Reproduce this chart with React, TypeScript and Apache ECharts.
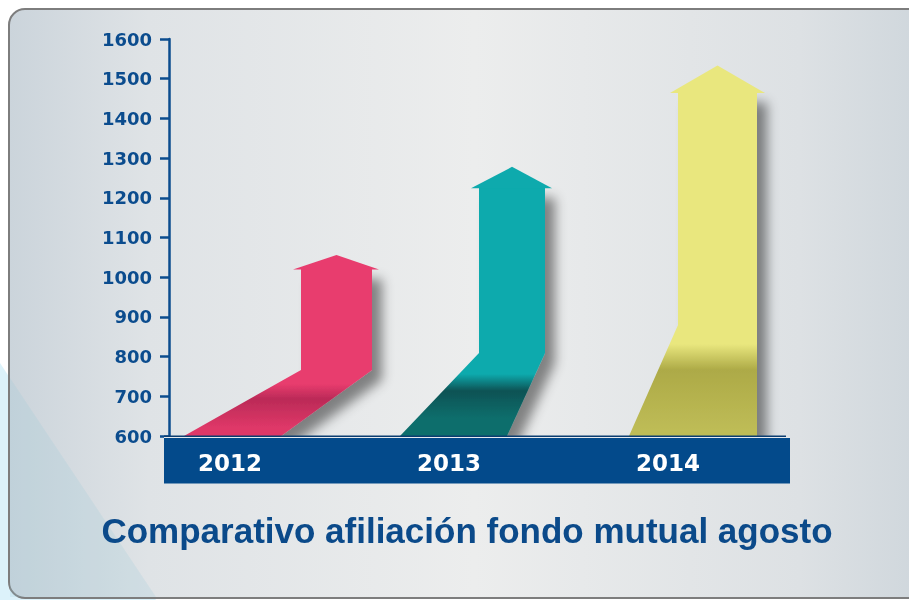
import React, { useEffect, useRef } from "react";
import * as echarts from "echarts";

// ---- data ----
const YEARS: string[] = ["2012", "2013", "2014"];
const AFILIADOS: number[] = [1056, 1278, 1533];
const Y_MIN = 600;
const Y_MAX = 1600;
const Y_INTERVAL = 100;
const TITLE = "Comparativo afiliación fondo mutual agosto";

// ---- arrow styling (pixel offsets relative to the category centre) ----
const ARROW_STYLE = [
  { bl: -46, br: 51, sl: 71, sr: 142, hl: 8, hr: 7, hh: 14, bend: 66, color: "#e83c6e", dark: "#bb2a57", bottom: "#df3868", shadeStart: 52, darkAt: 37, shadeEnd: 8 },
  { bl: -49, br: 58, sl: 30, sr: 96, hl: 8, hr: 7, hh: 21, bend: 83, color: "#0eaaad", dark: "#0a5254", bottom: "#0f6e6c", shadeStart: 62, darkAt: 45, shadeEnd: 18 },
  { bl: -39, br: 89, sl: 10, sr: 89, hl: 8, hr: 8, hh: 27, bend: 111, color: "#e9e77e", dark: "#adaa47", bottom: "#bebc56", shadeStart: 92, darkAt: 66, shadeEnd: 6 },
];

const BLUE = "#0b4c8e";

export default function App() {
  const ref = useRef<HTMLDivElement>(null);

  useEffect(() => {
    if (!ref.current) return;
    const chart = echarts.init(ref.current, undefined, { renderer: "svg" });

    const renderItem = (params: any, api: any) => {
      const i = api.value(0);
      const v = api.value(1);
      const top = api.coord([i, v]);
      const base = api.coord([i, Y_MIN]);
      const cx = top[0];
      const tipY = top[1];
      const y0 = base[1];
      const s = ARROW_STYLE[i];
      const shoulderY = tipY + s.hh;
      const bendY = y0 - s.bend;
      const H = y0 - shoulderY;
      const f = (px: number) => Math.min(1, Math.max(0, 1 - px / H));
      const body = [
        [cx + s.bl, y0],
        [cx + s.sl, bendY],
        [cx + s.sl, shoulderY],
        [cx + s.sr, shoulderY],
        [cx + s.sr, bendY],
        [cx + s.br, y0],
      ];
      const head = [
        [cx + s.sl - s.hl, shoulderY + 0.5],
        [cx + (s.sl + s.sr) / 2, tipY],
        [cx + s.sr + s.hr, shoulderY + 0.5],
      ];
      const fill = new echarts.graphic.LinearGradient(0, 0, 0, 1, [
        { offset: 0, color: s.color },
        { offset: f(s.shadeStart), color: s.color },
        { offset: f(s.darkAt), color: s.dark },
        { offset: f(s.shadeEnd), color: s.bottom },
        { offset: 1, color: s.bottom },
      ]);
      return {
        type: "group",
        children: [
          {
            type: "polygon",
            shape: { points: body },
            style: {
              fill,
              shadowBlur: 12,
              shadowOffsetX: 10,
              shadowOffsetY: 10,
              shadowColor: "rgba(0,0,0,0.45)",
            },
          },
          {
            type: "polygon",
            shape: { points: head },
            style: { fill: s.color },
          },
        ],
      };
    };

    const option: any = {
      animation: false,
      graphic: [
        { type: "rect", z: -20, silent: true, shape: { x: 0, y: 0, width: 909, height: 600 }, style: { fill: "#ffffff" } },
        { type: "polygon", z: -19, silent: true, shape: { points: [[0, 363], [156, 600], [0, 600]] }, style: { fill: "#dcf2fa" } },
        {
          type: "rect", z: -18, silent: true,
          shape: { x: 9, y: 9, width: 930, height: 589, r: 16 },
          style: {
            fill: new echarts.graphic.LinearGradient(0, 0, 1, 0, [
              { offset: 0, color: "#cbd4db" },
              { offset: 0.15, color: "#dfe3e6" },
              { offset: 0.5, color: "#eceded" },
              { offset: 0.85, color: "#dde1e4" },
              { offset: 1, color: "#cdd5db" },
            ]),
            stroke: "#7d7d7d",
            lineWidth: 2,
          },
        },
        { type: "polygon", z: -17, silent: true, shape: { points: [[10, 378], [156, 597], [10, 597]] }, style: { fill: "rgba(150,200,215,0.2)" } },
        { type: "rect", z: 4, silent: true, shape: { x: 164, y: 435.4, width: 622, height: 1.6 }, style: { fill: "#0a3c70" } },
        { type: "rect", z: 4, silent: true, shape: { x: 164, y: 437, width: 626, height: 1.2 }, style: { fill: "#e6eaee" } },
        { type: "rect", z: 4, silent: true, shape: { x: 164, y: 438, width: 626, height: 45.5 }, style: { fill: "#034a8b" } },
        {
          type: "text", z: 5, silent: true, x: 467, y: 530,
          style: {
            text: TITLE,
            fill: "#0b4a8a",
            fontFamily: '"Liberation Sans", Arial, sans-serif',
            fontWeight: "bold",
            fontSize: 35,
            align: "center",
            verticalAlign: "middle",
          },
        },
      ],
      grid: { left: 120.5, right: 131.5, top: 39, bottom: 164, containLabel: false },
      xAxis: {
        type: "category",
        data: YEARS,
        z: 6,
        axisLine: { show: false },
        axisTick: { show: false },
        axisLabel: {
          color: "#ffffff",
          fontFamily: '"DejaVu Sans", sans-serif',
          fontWeight: "bold",
          fontSize: 23,
          margin: 27,
          verticalAlign: "middle",
        },
        splitLine: { show: false },
      },
      yAxis: {
        type: "value",
        min: Y_MIN,
        max: Y_MAX,
        interval: Y_INTERVAL,
        offset: -48.5,
        axisLine: { show: true, lineStyle: { color: BLUE, width: 2.5 } },
        axisTick: { show: true, length: 9, lineStyle: { color: BLUE, width: 2.5 } },
        axisLabel: {
          color: BLUE,
          fontFamily: '"DejaVu Sans", sans-serif',
          fontWeight: "bold",
          fontSize: 18,
          margin: 17,
          formatter: (val: number) => String(val),
        },
        splitLine: { show: false },
      },
      series: [
        {
          type: "custom",
          name: "Afiliados",
          renderItem,
          encode: { x: 0, y: 1 },
          data: AFILIADOS.map((v, i) => [i, v]),
          z: 3,
        },
      ],
    };

    chart.setOption(option);
    return () => chart.dispose();
  }, []);

  return (
    <div
      ref={ref}
      style={{ position: "fixed", left: 0, top: 0, width: 909, height: 600 }}
    />
  );
}
